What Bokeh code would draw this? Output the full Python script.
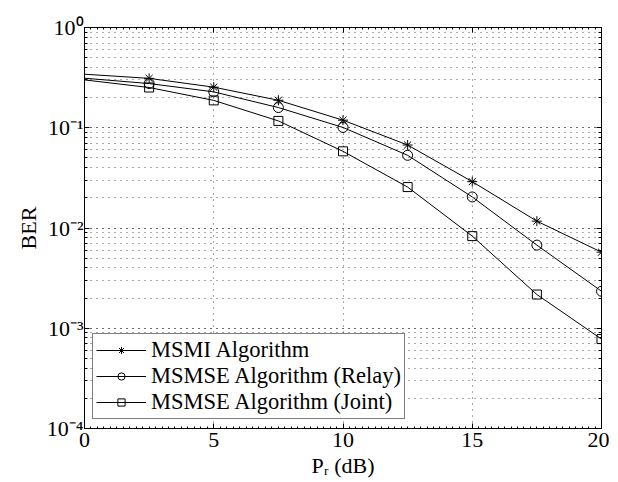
from bokeh.plotting import figure
from bokeh.models import (Range1d, FixedTicker, LogTicker, LinearAxis, LogAxis,
                          CustomJSTickFormatter, Legend, LegendItem, ColumnDataSource)
from bokeh.embed import file_html
from bokeh.resources import INLINE

# ---- data ----
pr_db = [0, 2.5, 5, 7.5, 10, 12.5, 15, 17.5, 20]
ber_msmi = [0.342, 0.311, 0.254, 0.188, 0.119, 0.0673, 0.0290, 0.0117, 0.00574]
ber_relay = [0.312, 0.276, 0.228, 0.159, 0.1007, 0.0531, 0.0204, 0.00675, 0.00234]
ber_joint = [0.300, 0.252, 0.1875, 0.117, 0.0582, 0.0256, 0.0083, 0.00217, 0.00078]
series_names = ["MSMI Algorithm", "MSMSE Algorithm (Relay)", "MSMSE Algorithm (Joint)"]
x_ticks = [0, 5, 10, 15, 20]
x_minor_ticks = [i * 0.25 for i in range(81)]

FONT = "Liberation Serif"
FS = "22px"

p = figure(frame_width=517, frame_height=401,
           y_axis_type="log", output_backend="svg", toolbar_location=None,
           x_range=Range1d(0, 20), y_range=Range1d(1e-4, 1),
           min_border_left=84, min_border_right=8, min_border_top=27, min_border_bottom=46)
p.outline_line_color = "black"
p.outline_line_width = 1
p.background_fill_color = "white"
p.border_fill_color = "white"

sup_js = """
const sup = {'-':'\u207b','0':'\u2070','1':'\u00b9','2':'\u00b2','3':'\u00b3','4':'\u2074',
             '5':'\u2075','6':'\u2076','7':'\u2077','8':'\u2078','9':'\u2079'};
const e = Math.round(Math.log10(tick));
return '10' + String(e).split('').map(c => sup[c]).join('');
"""

xt = FixedTicker(ticks=x_ticks, minor_ticks=x_minor_ticks)
yt = LogTicker(num_minor_ticks=10)

def style_axis(ax):
    ax.axis_line_color = "black"
    ax.major_tick_in = 5
    ax.major_tick_out = 0
    ax.minor_tick_in = 2
    ax.minor_tick_out = 0
    ax.major_tick_line_color = "black"
    ax.minor_tick_line_color = "black"
    ax.major_label_text_font = FONT
    ax.major_label_text_font_size = FS
    ax.major_label_text_color = "black"
    ax.axis_label_text_font = FONT
    ax.axis_label_text_font_size = FS
    ax.axis_label_text_font_style = "normal"
    ax.axis_label_text_color = "black"

xa = p.xaxis[0]
xa.ticker = xt
style_axis(xa)
xa.major_label_standoff = 4
xa.axis_label = "P\u1d63 (dB)"
xa.axis_label_standoff = 3

ya = p.yaxis[0]
ya.ticker = yt
ya.formatter = CustomJSTickFormatter(code=sup_js)
style_axis(ya)
ya.minor_tick_in = 3
ya.major_label_standoff = 1
ya.axis_label = "BER"
ya.axis_label_standoff = 3

top_ax = LinearAxis(ticker=xt, formatter=CustomJSTickFormatter(code="return ''"))
style_axis(top_ax)
top_ax.major_label_text_font_size = "0px"
top_ax.major_label_standoff = 0
p.add_layout(top_ax, "above")

right_ax = LogAxis(ticker=yt, formatter=CustomJSTickFormatter(code="return ''"))
style_axis(right_ax)
right_ax.minor_tick_in = 3
right_ax.major_label_text_font_size = "0px"
right_ax.major_label_standoff = 0
p.add_layout(right_ax, "right")

# grid: MATLAB-like dotted
GRID = "#555555"
p.xgrid.ticker = FixedTicker(ticks=x_ticks)
p.xgrid.grid_line_color = GRID
p.xgrid.grid_line_dash = "1 5"
p.xgrid.grid_line_width = 1
p.ygrid.grid_line_color = GRID
p.ygrid.grid_line_dash = "1 5"
p.ygrid.minor_grid_line_color = GRID
p.ygrid.minor_grid_line_dash = "1 5"

markers = ["asterisk", "circle", "square"]
sizes = [10, 10, 9]
items = []
for name, vals, mk, sz in zip(series_names, [ber_msmi, ber_relay, ber_joint], markers, sizes):
    src = ColumnDataSource(dict(x=pr_db, y=vals))
    msrc = ColumnDataSource(dict(x=pr_db[1:], y=vals[1:]))
    lr = p.line("x", "y", source=src, line_color="black", line_width=1)
    sr = p.scatter("x", "y", source=msrc, marker=mk, size=sz, line_color="black",
                   fill_alpha=0, line_width=1)
    items.append(LegendItem(label=name, renderers=[lr, sr]))

legend = Legend(items=items, location=(8, 9))
legend.margin = 0
legend.padding = 3
legend.spacing = 0
legend.label_text_font = FONT
legend.label_text_font_size = "22.5px"
legend.label_text_color = "black"
legend.label_text_line_height = 0.9
legend.glyph_width = 50
legend.glyph_height = 18
legend.label_height = 18
legend.label_standoff = 5
legend.border_line_color = "black"
legend.border_line_width = 1.5
legend.background_fill_color = "white"
legend.background_fill_alpha = 1
p.add_layout(legend, "center")

open("out.html", "w").write(file_html(p, INLINE))
